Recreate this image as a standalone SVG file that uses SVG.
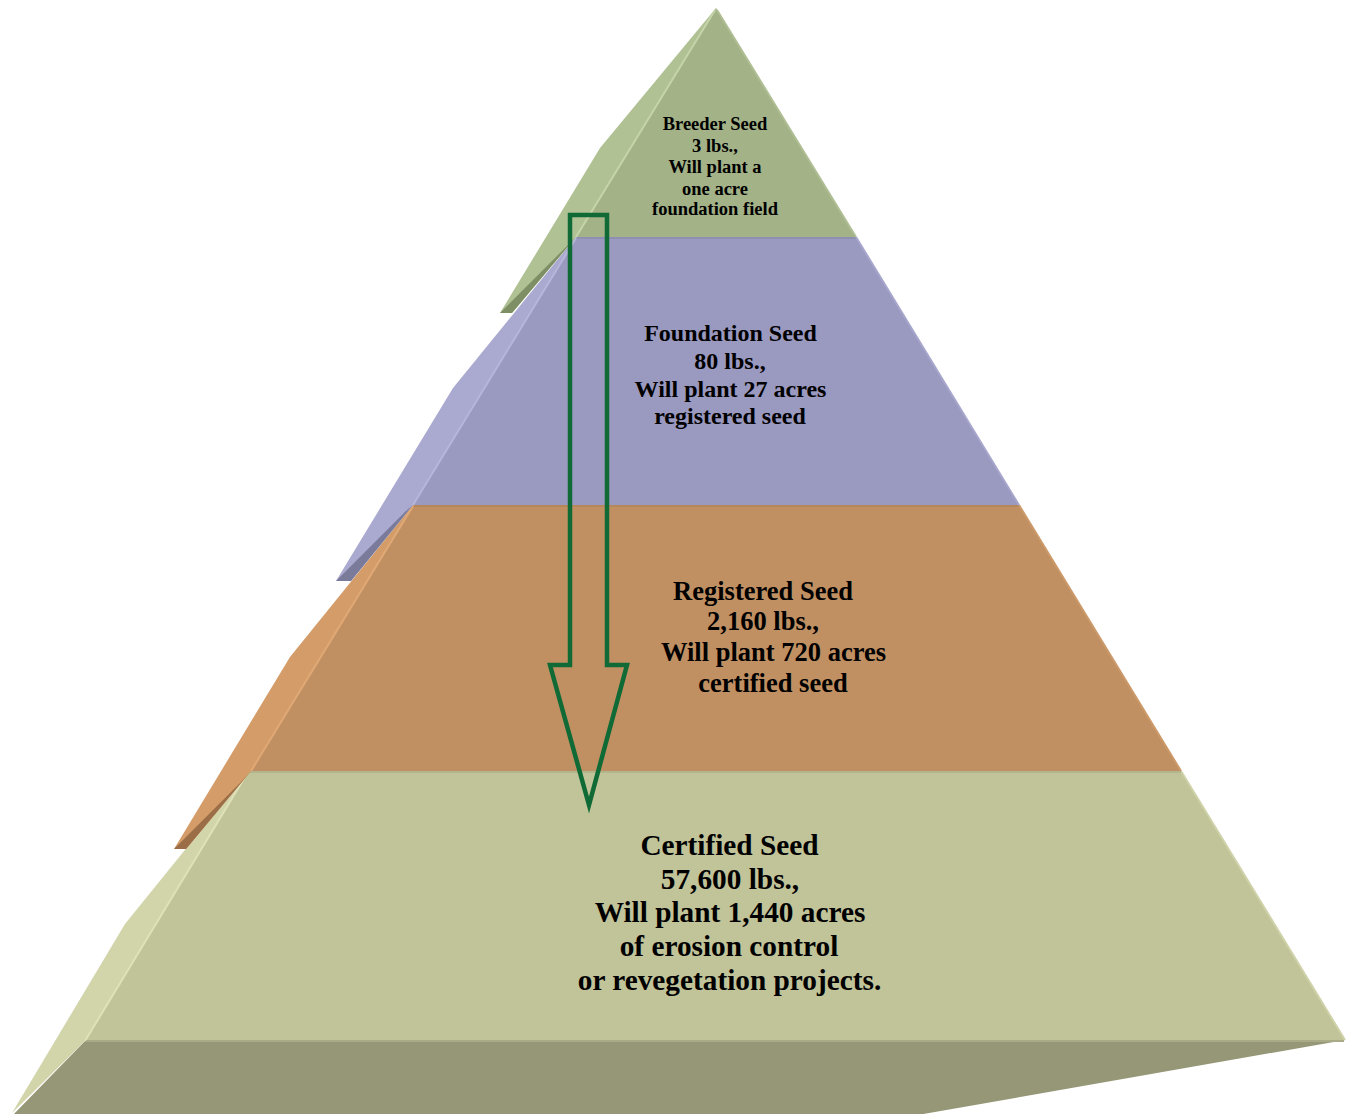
<svg xmlns="http://www.w3.org/2000/svg" width="1348" height="1114" viewBox="0 0 1348 1114">
<style>
  text { font-family: "Liberation Serif", "Times New Roman", serif; font-weight: bold; fill: #000; text-anchor: middle; }
  .t1 { font-size: 18.5px; }
  .t2 { font-size: 24px; }
  .t3 { font-size: 26.5px; }
  .t4 { font-size: 29.3px; }
  .edge { fill: none; stroke-width: 2; }
  .arrow { fill: none; stroke: #106a35; stroke-width: 4.5; stroke-linejoin: miter; }
</style>
<rect width="1348" height="1114" fill="#ffffff"/>

<g id="certified">
  <polygon points="12,1116 85,1041 1345,1040 912,1116" fill="#969777"/>
  <polygon points="248,772 125,924 12,1113 85,1041" fill="#d2d4aa"/>
  <polygon points="248,771 1181,771 1345,1040 85,1041" fill="#c1c399"/>
  <line class="edge" x1="248" y1="772" x2="85" y2="1041" stroke="#dfe1b8"/>
  <line class="edge" x1="1181" y1="771" x2="1345" y2="1040" stroke="#cfd1a8"/>
  <line class="edge" x1="249" y1="772" x2="1181" y2="772" stroke="#b3b58c"/>
  <line class="edge" x1="86" y1="1041" x2="1344" y2="1041" stroke="#a9ab86"/>
  <text class="t4" x="729.5" y="855">Certified Seed</text>
  <text class="t4" x="730" y="889">57,600 lbs.,</text>
  <text class="t4" x="730" y="922">Will plant 1,440 acres</text>
  <text class="t4" x="729" y="956">of erosion control</text>
  <text class="t4" x="729.5" y="990">or revegetation projects.</text>
</g>

<g id="registered">
  <polygon points="413,505 290,657 174,849 186,849 251,771" fill="#d39c69"/>
  <polygon points="174,849 186,849 251,771 242,781" fill="#9b6e47"/>
  <polygon points="413,505 1019,505 1181,771 251,771" fill="#c09062"/>
  <line class="edge" x1="413" y1="506" x2="251" y2="771" stroke="#e0a874"/>
  <line class="edge" x1="1019" y1="505" x2="1181" y2="771" stroke="#cc9a6a"/>
  <line class="edge" x1="414" y1="506" x2="1019" y2="506" stroke="#b5875b"/>
  <text class="t3" x="763" y="600">Registered Seed</text>
  <text class="t3" x="763" y="630">2,160 lbs.,</text>
  <text class="t3" x="773.5" y="661">Will plant 720 acres</text>
  <text class="t3" x="773" y="692">certified seed</text>
</g>

<g id="foundation">
  <polygon points="576,237 453,388 336,581 351,581 413,505" fill="#aaa9cf"/>
  <polygon points="336,581 351,581 413,505 406,511" fill="#7a7a9a"/>
  <polygon points="576,237 856,237 1019,505 413,505" fill="#9a99c0"/>
  <line class="edge" x1="576" y1="238" x2="413" y2="505" stroke="#b6b5da"/>
  <line class="edge" x1="856" y1="237" x2="1019" y2="505" stroke="#a7a6cc"/>
  <line class="edge" x1="577" y1="238" x2="856" y2="238" stroke="#8f8eb3"/>
  <text class="t2" x="730.5" y="341">Foundation Seed</text>
  <text class="t2" x="730" y="369">80 lbs.,</text>
  <text class="t2" x="730.5" y="397">Will plant 27 acres</text>
  <text class="t2" x="730" y="424">registered seed</text>
</g>

<g id="breeder">
  <polygon points="716,8 600,148 500,313 512,313 576,237" fill="#b0c194"/>
  <polygon points="500,313 512,313 576,237 569,244" fill="#7f8f65"/>
  <polygon points="716,8 856,237 576,237" fill="#a3b287"/>
  <line class="edge" x1="715" y1="10" x2="576" y2="237" stroke="#c6d5a9"/>
  <line class="edge" x1="717" y1="10" x2="856" y2="237" stroke="#afbe93"/>
  <text class="t1" x="715" y="130">Breeder Seed</text>
  <text class="t1" x="715" y="152">3 lbs.,</text>
  <text class="t1" x="715" y="173">Will plant a</text>
  <text class="t1" x="715" y="194.5">one acre</text>
  <text class="t1" x="715" y="215">foundation field</text>
</g>

<g id="connectors">
  <path class="arrow" d="M570,215 H607 V665 H627 L589,805 L550,665 H570 Z"/>
</g>
</svg>
